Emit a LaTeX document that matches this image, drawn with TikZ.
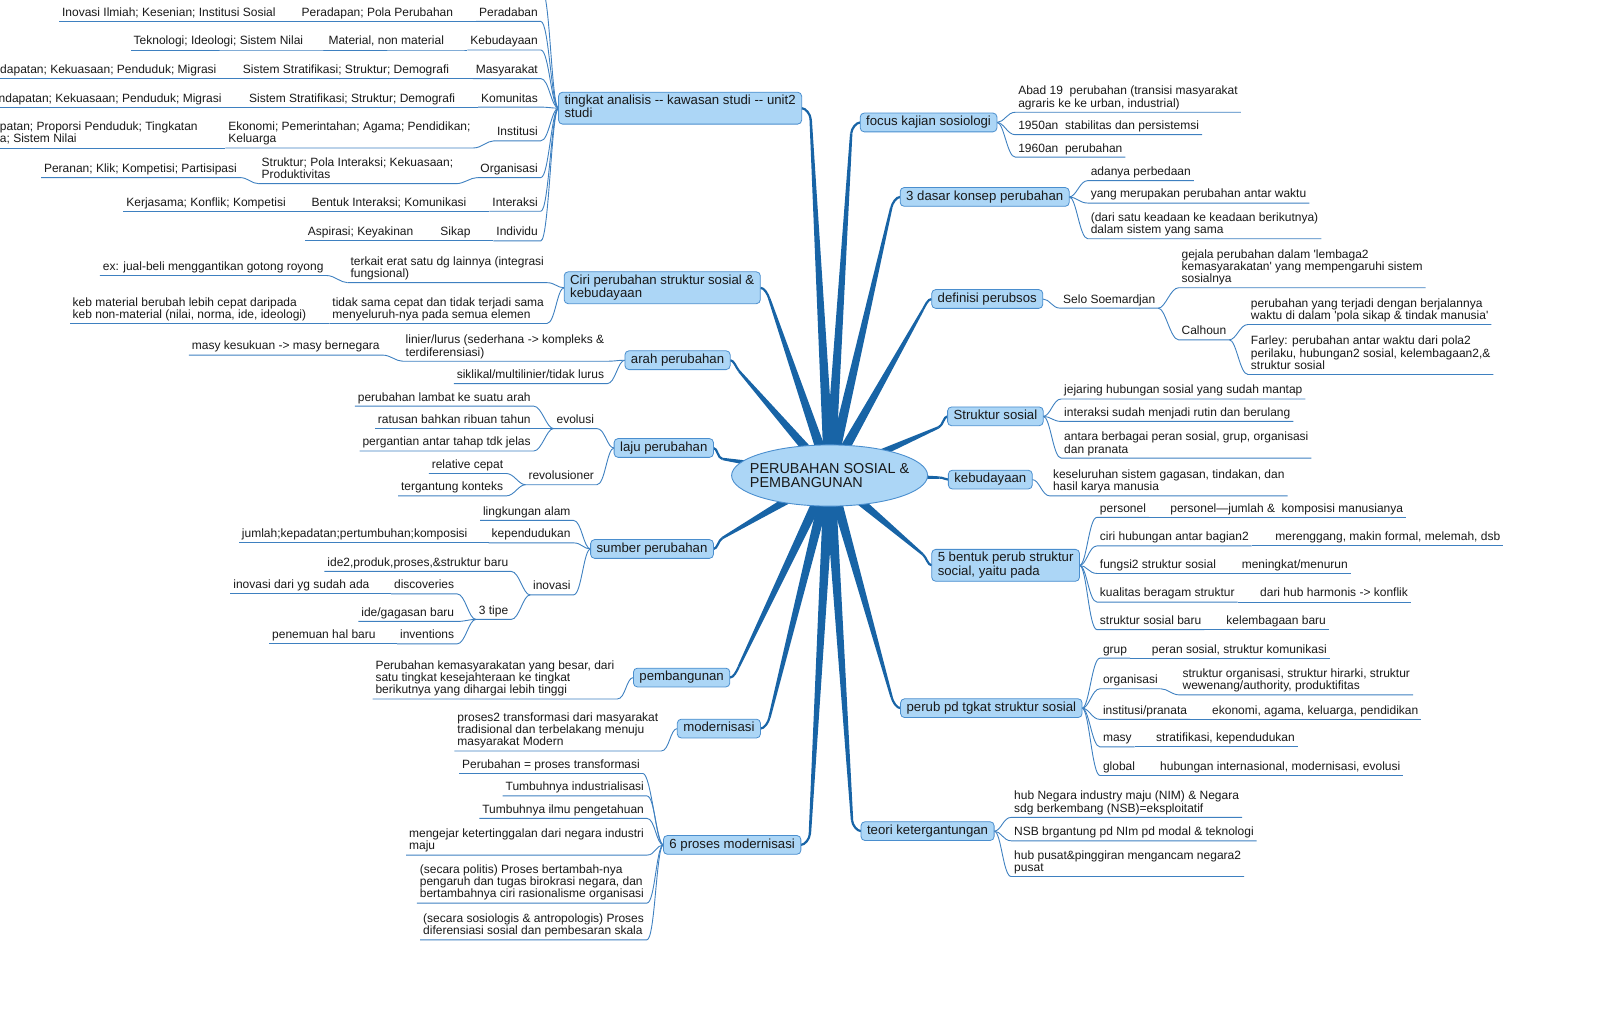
\documentclass[tikz,border=0pt]{standalone}
\usepackage{fontspec}
\newfontfamily\lsans{Liberation Sans}
\usetikzlibrary{calc,shapes.geometric}
\definecolor{branchcol}{RGB}{24,100,166}
\definecolor{topicfill}{RGB}{172,214,246}
\definecolor{topicdraw}{RGB}{74,142,206}
\definecolor{conncol}{RGB}{62,128,192}
\definecolor{txtcol}{RGB}{25,25,25}
\pgfdeclarelayer{bg}
\pgfsetlayers{bg,main}
\newcommand\mmstrut{\vrule width 0pt height .74em depth .26em\relax}
\newcommand\leaffont{\lsans\fontsize{12}{12.25}\selectfont}
\newcommand\topicfont{\lsans\fontsize{13.2}{13.3}\selectfont}
\newcommand\centerfont{\lsans\fontsize{14.4}{14.3}\selectfont}
\newcommand\cL[2]{\draw[conn] (#1) .. controls +(-7,0) and +(8,0) .. (#2.south east) -- (#2.south west);}
\newcommand\cR[2]{\draw[conn] (#1) .. controls +(7,0) and +(-8,0) .. (#2.south west) -- (#2.south east);}
\newcommand\mmbranch[1]{%
 \fill[branchcol] let \p1=(c.center), \p2=(#1), \n1={ifthenelse(\x2>\x1,1,-1)},
   \n2={max(min((\y1-\y2)*0.5,11),-11)}, \p3=({\x2-\n1*9pt},{\y2+\n2*1pt}) in
  ($(\p1)!5.5pt!90:(\p3)$) -- ($(\p3)!1.2pt!-90:(\p1)$) --
  ($(\p3)!1.2pt!90:(\p1)$) -- ($(\p1)!5.5pt!-90:(\p3)$) -- cycle;
 \draw[branchcol, line width=2.2pt] let \p1=(c.center), \p2=(#1), \n1={ifthenelse(\x2>\x1,1,-1)},
   \n2={max(min((\y1-\y2)*0.5,11),-11)}, \p3=({\x2-\n1*9pt},{\y2+\n2*1pt}) in
  (\p3) .. controls ($(\p3)!-5pt!(\p1)$) and ({\x2-\n1*4pt},\y2) .. (\p2);}
\tikzset{
 leafbase/.style={align=left, inner xsep=3pt, inner ysep=2pt, outer sep=0pt, font=\leaffont, text=txtcol, execute at begin node=\mmstrut},
 lL/.style={leafbase, anchor=south east},
 lR/.style={leafbase, anchor=south west},
 topic/.style={draw=topicdraw, fill=topicfill, line width=0.8pt, rounded corners=4pt, align=left, inner xsep=6pt, inner ysep=2.8pt, outer sep=0pt, font=\topicfont, text=txtcol, execute at begin node=\mmstrut},
 conn/.style={draw=conncol, line width=0.9pt},
 centre/.style={inner sep=0pt, align=left, font=\centerfont, text=txtcol},
}
\begin{document}
\begin{tikzpicture}[x=1.0204pt,y=-1.0204pt]
\useasboundingbox (0,0) rectangle (1568,1000);
\clip (0,0) rectangle (1568,1000);

\draw[draw=topicdraw, fill=topicfill, line width=0.9pt] (813,466) ellipse [x radius=98pt, y radius=30.6pt];
\node[centre] (c) at (813,466) {PERUBAHAN SOSIAL \&\\PEMBANGUNAN};

% topics
\node[topic] (tk) at (666.5,106) {tingkat analisis -- kawasan studi -- unit2\\studi\mmstrut};
\node[topic] (ci) at (649,282) {Ciri perubahan struktur sosial \&\\kebudayaan\mmstrut};
\node[topic] (ar) at (664,353) {arah perubahan};
\node[topic] (la) at (650.5,439) {laju perubahan};
\node[topic] (su) at (639,538) {sumber perubahan};
\node[topic] (pe) at (668,664) {pembangunan};
\node[topic] (mo) at (704.5,714) {modernisasi};
\node[topic] (sp) at (717.5,828) {6 proses modernisasi};
\node[topic] (fo) at (910,120) {focus kajian sosiologi};
\node[topic] (da) at (965,193) {3 dasar konsep perubahan};
\node[topic] (de) at (967.5,293) {definisi perubsos};
\node[topic] (ss) at (975.5,408) {Struktur sosial};
\node[topic] (kb) at (970.5,470) {kebudayaan};
\node[topic] (lb) at (985.5,554) {5 bentuk perub struktur\\social, yaitu pada\mmstrut};
\node[topic] (pt) at (971.5,694) {perub pd tgkat struktur sosial};
\node[topic] (te) at (909,814.5) {teori ketergantungan};

% tingkat analisis rows
\coordinate (tk0) at (531,-10);
\node[lL] (r1) at (530,21) {Peradaban};
\node[lL] (r1b) at (447,21) {Peradapan; Pola Perubahan};
\node[lL] (r1c) at (273,21) {Inovasi Ilmiah; Kesenian; Institusi Sosial};
\node[lL] (r2) at (530,49) {Kebudayaan};
\node[lL] (r2b) at (438,49) {Material, non material};
\node[lL] (r2c) at (300,49) {Teknologi; Ideologi; Sistem Nilai};
\node[lL] (r3) at (530,77) {Masyarakat};
\node[lL] (r3b) at (443,77) {Sistem Stratifikasi; Struktur; Demografi};
\node[lL] (r3c) at (215,77) {Pendapatan; Kekuasaan; Penduduk; Migrasi};
\node[lL] (r4) at (530,105) {Komunitas};
\node[lL] (r4b) at (449,105) {Sistem Stratifikasi; Struktur; Demografi};
\node[lL] (r4c) at (220,105) {Pendapatan; Kekuasaan; Penduduk; Migrasi};
\node[lL] (r5) at (530,138) {Institusi};
\node[lL] (r5b) at (464,145) {Ekonomi; Pemerintahan; Agama; Pendidikan;\\Keluarga\mmstrut};
\node[lL,anchor=south west] (r5c) at (-3,145) {patan; Proporsi Penduduk; Tingkatan\\a; Sistem Nilai\mmstrut};
\node[lL] (r6) at (530,174) {Organisasi};
\node[lL] (r6b) at (447,180) {Struktur; Pola Interaksi; Kekuasaan;\\Produktivitas\mmstrut};
\node[lL] (r6c) at (235,174) {Peranan; Klik; Kompetisi; Partisipasi};
\node[lL] (r7) at (530,207) {Interaksi};
\node[lL] (r7b) at (460,207) {Bentuk Interaksi; Komunikasi};
\node[lL] (r7c) at (283,207) {Kerjasama; Konflik; Kompetisi};
\node[lL] (r8) at (530,236) {Individu};
\node[lL] (r8b) at (464,236) {Sikap};
\node[lL] (r8c) at (408,236) {Aspirasi; Keyakinan};

% ciri
\node[lL] (c1) at (536,277) {terkait erat satu dg lainnya (integrasi\\fungsional)\mmstrut};
\node[lL] (c1a) at (320,270) {ex: jual-beli menggantikan gotong royong};
\node[lL] (c2) at (536,317) {tidak sama cepat dan tidak terjadi sama\\menyeluruh-nya pada semua elemen\mmstrut};
\node[lL] (c2a) at (303,317) {keb material berubah lebih cepat daripada\\keb non-material (nilai, norma, ide, ideologi)\mmstrut};

% arah
\node[lL] (a1) at (595,354) {linier/lurus (sederhana -> kompleks \&\\terdiferensiasi)\mmstrut};
\node[lL] (a1a) at (375,348) {masy kesukuan -> masy bernegara};
\node[lL] (a2) at (595,376) {siklikal/multilinier/tidak lurus};

% laju
\node[lL] (l1) at (585,420) {evolusi};
\node[lL] (l1a) at (523,398) {perubahan lambat ke suatu arah};
\node[lL] (l1b) at (523,420) {ratusan bahkan ribuan tahun};
\node[lL] (l1c) at (523,442) {pergantian antar tahap tdk jelas};
\node[lL] (l2) at (585,475) {revolusioner};
\node[lL] (l2a) at (496,464) {relative cepat};
\node[lL] (l2b) at (496,486) {tergantung konteks};

% sumber
\node[lL] (s1) at (562,510) {lingkungan alam};
\node[lL] (s2) at (562,532) {kependudukan};
\node[lL] (s2a) at (461,532) {jumlah;kepadatan;pertumbuhan;komposisi};
\node[lL] (s3) at (562,583) {inovasi};
\node[lL] (s3a) at (501,560) {ide2,produk,proses,\&struktur baru};
\node[lL] (s3b) at (501,607) {3 tipe};
\node[lL] (t1) at (448,582) {discoveries};
\node[lL] (t1a) at (365,582) {inovasi dari yg sudah ada};
\node[lL] (t2) at (448,609) {ide/gagasan baru};
\node[lL] (t3) at (448,631) {inventions};
\node[lL] (t3a) at (371,631) {penemuan hal baru};

% pembangunan, modernisasi
\node[lL] (p1) at (605,685) {Perubahan kemasyarakatan yang besar, dari\\satu tingkat kesejahteraan ke tingkat\\berikutnya yang dihargai lebih tinggi\mmstrut};
\node[lL] (m1) at (648,736) {proses2 transformasi dari masyarakat\\tradisional dan terbelakang menuju\\masyarakat Modern\mmstrut};

% 6 proses
\node[lL] (q1) at (630,758) {Perubahan = proses transformasi};
\node[lL] (q2) at (634,780) {Tumbuhnya industrialisasi};
\node[lL] (q3) at (634,802) {Tumbuhnya ilmu pengetahuan};
\node[lL] (q4) at (634,838) {mengejar ketertinggalan dari negara industri\\maju\mmstrut};
\node[lL] (q5) at (634,885) {(secara politis) Proses bertambah-nya\\pengaruh dan tugas birokrasi negara, dan\\bertambahnya ciri rasionalisme organisasi\mmstrut};
\node[lL] (q6) at (634,921) {(secara sosiologis \& antropologis) Proses\\diferensiasi sosial dan pembesaran skala\mmstrut};

% right side
\node[lR] (f1) at (995,110) {Abad 19\ \ perubahan (transisi masyarakat\\agraris ke ke urban, industrial)\mmstrut};
\node[lR] (f2) at (995,132) {1950an\ \ stabilitas dan persistemsi};
\node[lR] (f3) at (995,154) {1960an\ \ perubahan};
\node[lR] (d1) at (1066,177) {adanya perbedaan};
\node[lR] (d2) at (1066,199) {yang merupakan perubahan antar waktu};
\node[lR] (d3) at (1066,234) {(dari satu keadaan ke keadaan berikutnya)\\dalam sistem yang sama\mmstrut};
\node[lR] (e1) at (1039,302) {Selo Soemardjan};
\node[lR] (e1a) at (1155,282) {gejala perubahan dalam 'lembaga2\\kemasyarakatan' yang mempengaruhi sistem\\sosialnya\mmstrut};
\node[lR] (e1b) at (1155,333) {Calhoun};
\node[lR] (e1c) at (1223,318) {perubahan yang terjadi dengan berjalannya\\waktu di dalam 'pola sikap \& tindak manusia'\mmstrut};
\node[lR] (e1d) at (1223,367) {Farley: perubahan antar waktu dari pola2\\perilaku, hubungan2 sosial, kelembagaan2,\&\\struktur sosial\mmstrut};
\node[lR] (k1) at (1040,391) {jejaring hubungan sosial yang sudah mantap};
\node[lR] (k2) at (1040,413) {interaksi sudah menjadi rutin dan berulang};
\node[lR] (k3) at (1040,449) {antara berbagai peran sosial, grup, organisasi\\dan pranata\mmstrut};
\node[lR] (b1) at (1029,486) {keseluruhan sistem gagasan, tindakan, dan\\hasil karya manusia\mmstrut};
\node[lR] (g1) at (1075,507) {personel};
\node[lR] (g1a) at (1144,507) {personel—jumlah \&\ \ komposisi manusianya};
\node[lR] (g2) at (1075,535) {ciri hubungan antar bagian2};
\node[lR] (g2a) at (1247,535) {merenggang, makin formal, melemah, dsb};
\node[lR] (g3) at (1075,562) {fungsi2 struktur sosial};
\node[lR] (g3a) at (1214,562) {meningkat/menurun};
\node[lR] (g4) at (1075,590) {kualitas beragam struktur};
\node[lR] (g4a) at (1232,590) {dari hub harmonis -> konflik};
\node[lR] (g5) at (1075,617) {struktur sosial baru};
\node[lR] (g5a) at (1199,617) {kelembagaan baru};
\node[lR] (h1) at (1078,645) {grup};
\node[lR] (h1a) at (1126,645) {peran sosial, struktur komunikasi};
\node[lR] (h2) at (1078,675) {organisasi};
\node[lR] (h2a) at (1156,681) {struktur organisasi, struktur hirarki, struktur\\wewenang/authority, produktifitas\mmstrut};
\node[lR] (h3) at (1078,705) {institusi/pranata};
\node[lR] (h3a) at (1185,705) {ekonomi, agama, keluarga, pendidikan};
\node[lR] (h4) at (1078,732) {masy};
\node[lR] (h4a) at (1130,732) {stratifikasi, kependudukan};
\node[lR] (h5) at (1078,760) {global};
\node[lR] (h5a) at (1134,760) {hubungan internasional, modernisasi, evolusi};
\node[lR] (o1) at (991,801) {hub Negara industry maju (NIM) \& Negara\\sdg berkembang (NSB)=eksploitatif\mmstrut};
\node[lR] (o2) at (991,824) {NSB brgantung pd NIm pd modal \& teknologi};
\node[lR] (o3) at (991,859) {hub pusat\&pinggiran mengancam negara2\\pusat\mmstrut};

\begin{pgfonlayer}{bg}
 \foreach \t in {fo.west,da.west,de.west,ss.west,kb.west,lb.west,pt.west,te.west,
   tk.east,ci.east,ar.east,la.east,su.east,pe.east,mo.east,sp.east} {\mmbranch{\t}}
 % left side connectors
 \draw[conn] (tk.west) .. controls +(-7,0) and +(8,0) .. (tk0) -- ++(-100,0);
 \foreach \n in {r1,r2,r3,r4,r5,r6,r7,r8} {\cL{tk.west}{\n}}
 \foreach \n in {r1,r2,r3,r4,r5,r6,r7,r8} {\cL{\n.south west}{\n b}\cL{\n b.south west}{\n c}}
 \cL{ci.west}{c1} \cL{ci.west}{c2} \cL{c1.south west}{c1a} \cL{c2.south west}{c2a}
 \cL{ar.west}{a1} \cL{ar.west}{a2} \cL{a1.south west}{a1a}
 \cL{la.west}{l1} \cL{la.west}{l2}
 \foreach \n in {l1a,l1b,l1c} {\cL{l1.south west}{\n}}
 \cL{l2.south west}{l2a} \cL{l2.south west}{l2b}
 \foreach \n in {s1,s2,s3} {\cL{su.west}{\n}}
 \cL{s2.south west}{s2a} \cL{s3.south west}{s3a} \cL{s3.south west}{s3b}
 \foreach \n in {t1,t2,t3} {\cL{s3b.south west}{\n}}
 \cL{t1.south west}{t1a} \cL{t3.south west}{t3a}
 \cL{pe.west}{p1} \cL{mo.west}{m1}
 \foreach \n in {q1,q2,q3,q4,q5,q6} {\cL{sp.west}{\n}}
 % right side connectors
 \foreach \n in {f1,f2,f3} {\cR{fo.east}{\n}}
 \foreach \n in {d1,d2,d3} {\cR{da.east}{\n}}
 \cR{de.east}{e1} \cR{e1.south east}{e1a} \cR{e1.south east}{e1b}
 \cR{e1b.south east}{e1c} \cR{e1b.south east}{e1d}
 \foreach \n in {k1,k2,k3} {\cR{ss.east}{\n}}
 \cR{kb.east}{b1}
 \foreach \n in {g1,g2,g3,g4,g5} {\cR{lb.east}{\n}\cR{\n.south east}{\n a}}
 \foreach \n in {h1,h2,h3,h4,h5} {\cR{pt.east}{\n}\cR{\n.south east}{\n a}}
 \foreach \n in {o1,o2,o3} {\cR{te.east}{\n}}
\end{pgfonlayer}
\end{tikzpicture}
\end{document}
